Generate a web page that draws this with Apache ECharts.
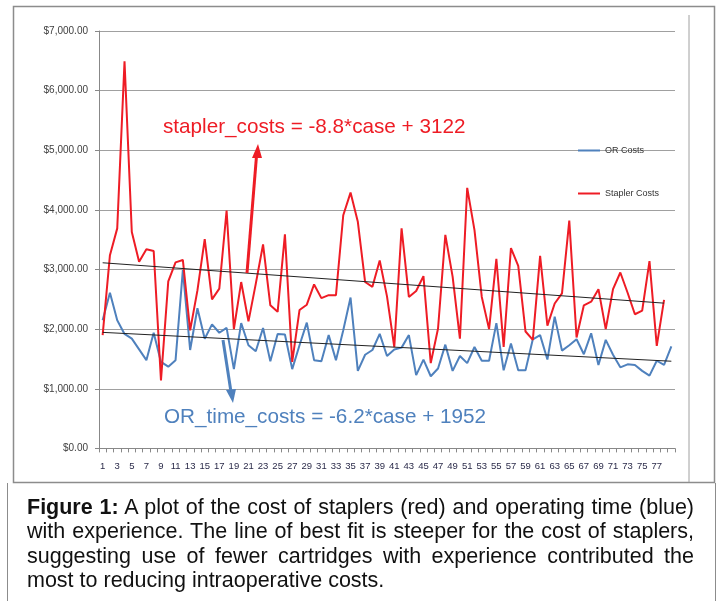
<!DOCTYPE html>
<html>
<head>
<meta charset="utf-8">
<script src="https://cdn.jsdelivr.net/npm/echarts@6/dist/echarts.min.js"></script>
<style>
  html, body { margin: 0; padding: 0; background: #fff; }
  #wrap { position: relative; width: 720px; height: 601px; overflow: hidden; }
  #chart { position: absolute; left: 0; top: 0; width: 720px; height: 601px; }
  .cap {
    position: absolute; left: 27px; width: 667px; white-space: normal;
    font-family: "Liberation Sans", Arial, sans-serif;
    font-size: 21.5px; line-height: 24.5px; color: #111;
    text-align: justify; text-align-last: justify;
  }
  .cap.last { text-align-last: left; }
</style>
</head>
<body>
<div id="wrap">
  <div id="chart"></div>
  <div class="cap" style="top:494.5px"><b>Figure 1:</b> A plot of the cost of staplers (red) and operating time (blue)</div>
  <div class="cap" style="top:519px">with experience. The line of best fit is steeper for the cost of staplers,</div>
  <div class="cap" style="top:543.5px">suggesting use of fewer cartridges with experience contributed the</div>
  <div class="cap last" style="top:568px">most to reducing intraoperative costs.</div>
</div>
<script>
// ---- data ----
const cases = ['1','2','3','4','5','6','7','8','9','10','11','12','13','14','15','16','17','18','19','20',
  '21','22','23','24','25','26','27','28','29','30','31','32','33','34','35','36','37','38','39','40',
  '41','42','43','44','45','46','47','48','49','50','51','52','53','54','55','56','57','58','59','60',
  '61','62','63','64','65','66','67','68','69','70','71','72','73','74','75','76','77','78','79'];

const orCosts = [2150, 2610, 2150, 1920, 1840, 1660, 1480, 1940, 1450, 1370,
  1480, 2990, 1650, 2350, 1840, 2080, 1940, 2020, 1330, 2100,
  1730, 1630, 2020, 1460, 1920, 1910, 1330, 1730, 2110, 1480,
  1460, 1900, 1480, 1980, 2530, 1300, 1570, 1650, 1920, 1550,
  1660, 1690, 1900, 1230, 1490, 1210, 1340, 1740, 1300, 1550,
  1430, 1700, 1470, 1470, 2100, 1310, 1760, 1310, 1310, 1830,
  1900, 1490, 2210, 1640, 1730, 1830, 1580, 1930, 1400, 1820,
  1570, 1360, 1410, 1400, 1300, 1220, 1470, 1400, 1710];

const staplerCosts = [1900, 3240, 3690, 6490, 3630, 3130, 3340, 3310, 1140, 2800,
  3120, 3160, 1980, 2650, 3510, 2500, 2680, 3990, 2000, 2790,
  2130, 2760, 3420, 2400, 2290, 3590, 1450, 2320, 2410, 2750,
  2520, 2570, 2570, 3910, 4290, 3800, 2790, 2710, 3150, 2550,
  1700, 3690, 2540, 2640, 2890, 1430, 2010, 3580, 2880, 1840,
  4370, 3660, 2540, 2000, 3180, 1700, 3360, 3060, 1960, 1820,
  3230, 2060, 2430, 2600, 3820, 1860, 2400, 2460, 2670, 2000,
  2670, 2950, 2610, 2250, 2310, 3140, 1720, 2490];

// best-fit lines: [case, value] at both ends
const staplerFit = [['1', 3113], ['78', 2436]];
const orFit = [['1', 1946], ['79', 1462]];

const yTicks = [0, 1000, 2000, 3000, 4000, 5000, 6000, 7000];
const seriesNames = ['OR Costs', 'Stapler Costs'];
const staplerEq = 'stapler_costs = -8.8*case + 3122';
const orEq = 'OR_time_costs = -6.2*case + 1952';

// ---- chart ----
const RED = '#ee1c25';
const BLUE = '#4f81bd';
const chart = echarts.init(document.getElementById('chart'), null, { renderer: 'canvas' });

function money(v) {
  return '$' + v.toLocaleString('en-US', { minimumFractionDigits: 2, maximumFractionDigits: 2 });
}

chart.setOption({
  animation: false,
  backgroundColor: '#fff',
  textStyle: { fontFamily: 'Liberation Sans, Arial, sans-serif' },
  grid: { left: 99, top: 31, width: 576, height: 417.4, containLabel: false },
  legend: {
    data: seriesNames,
    orient: 'vertical',
    left: 578, top: 146,
    padding: 0,
    itemGap: 34,
    itemWidth: 22, itemHeight: 2,
    icon: 'rect',
    textStyle: { fontSize: 9, color: '#333', fontFamily: 'Liberation Sans, Arial, sans-serif' }
  },
  xAxis: {
    type: 'category',
    data: cases,
    boundaryGap: true,
    axisLine: { lineStyle: { color: '#888', width: 1 } },
    axisTick: { show: true, interval: 0, length: 4, lineStyle: { color: '#888' } },
    axisLabel: {
      interval: function (i) { return i % 2 === 0 && i < cases.length - 1; },
      fontSize: 9.5, color: '#2b2b4a', margin: 13
    },
    splitLine: { show: false }
  },
  yAxis: {
    type: 'value',
    min: yTicks[0], max: yTicks[yTicks.length - 1], interval: 1000,
    axisLine: { show: true, lineStyle: { color: '#888' } },
    axisTick: { show: true, length: 4, lineStyle: { color: '#888' } },
    axisLabel: { formatter: money, fontSize: 10, color: '#404040', margin: 11 },
    splitLine: { show: true, lineStyle: { color: '#a0a0a0', width: 1 } }
  },
  series: [
    {
      name: seriesNames[0], type: 'line', data: orCosts,
      symbol: 'none', lineStyle: { color: BLUE, width: 2 }, itemStyle: { color: BLUE }, z: 2
    },
    {
      name: seriesNames[1], type: 'line', data: staplerCosts,
      symbol: 'none', lineStyle: { color: RED, width: 2 }, itemStyle: { color: RED }, z: 3
    },
    {
      name: 'stapler fit', type: 'line', data: staplerFit,
      symbol: 'none', lineStyle: { color: '#222', width: 1 }, z: 4, silent: true
    },
    {
      name: 'or fit', type: 'line', data: orFit,
      symbol: 'none', lineStyle: { color: '#222', width: 1 }, z: 4, silent: true
    }
  ],
  graphic: [
    // chart frame
    { type: 'rect', shape: { x: 13.5, y: 6.5, width: 701, height: 476 }, style: { fill: 'none', stroke: '#8c8c8c', lineWidth: 1.5 }, z: 0, silent: true },
    { type: 'line', shape: { x1: 689, y1: 15, x2: 689, y2: 482 }, style: { stroke: '#a0a0a0', lineWidth: 1 }, silent: true },
    // caption frame
    { type: 'line', shape: { x1: 7.5, y1: 483, x2: 7.5, y2: 601 }, style: { stroke: '#8c8c8c', lineWidth: 1 }, silent: true },
    { type: 'line', shape: { x1: 715.5, y1: 483, x2: 715.5, y2: 601 }, style: { stroke: '#8c8c8c', lineWidth: 1 }, silent: true },
    // annotation texts
    { type: 'text', left: 163, top: 117, z: 10, style: { text: staplerEq, fill: RED, font: '20.7px "Liberation Sans", Arial, sans-serif' } },
    { type: 'text', left: 164, top: 407, z: 10, style: { text: orEq, fill: BLUE, font: '20.7px "Liberation Sans", Arial, sans-serif' } },
    // arrows
    { type: 'line', z: 10, shape: { x1: 247, y1: 273, x2: 256.5, y2: 156 }, style: { stroke: RED, lineWidth: 3 } },
    { type: 'polygon', z: 10, shape: { points: [[258, 144], [252, 158], [262, 158]] }, style: { fill: RED } },
    { type: 'line', z: 10, shape: { x1: 223, y1: 340, x2: 231, y2: 392 }, style: { stroke: BLUE, lineWidth: 3 } },
    { type: 'polygon', z: 10, shape: { points: [[233, 403], [226, 390], [236, 389]] }, style: { fill: BLUE } }
  ]
});
</script>
</body>
</html>
